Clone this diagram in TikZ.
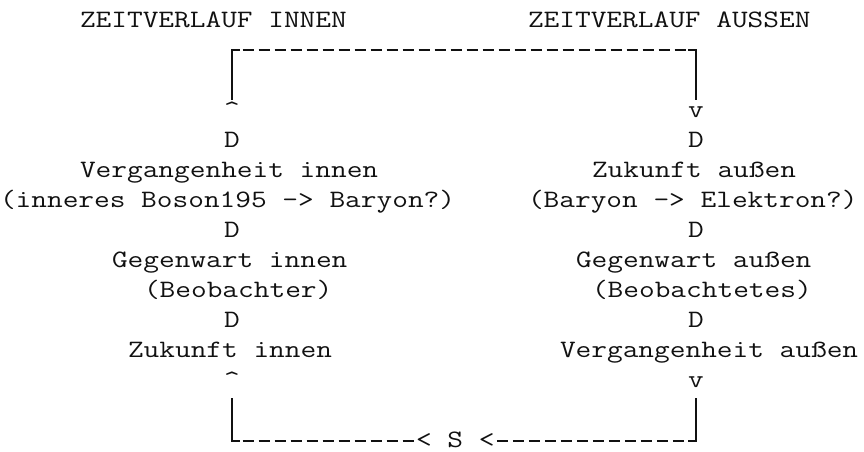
\documentclass[tikz,border=0pt]{standalone}
\usepackage{fontspec}
% typewriter face, widened so that one character cell is exactly 16pt
\newfontfamily\asciifont{Latin Modern Mono}[FakeStretch=1.21905]
\definecolor{ink}{HTML}{111111}
\begin{document}
\begin{tikzpicture}[x=1pt,y=-1pt,
  txt/.style={font=\asciifont\fontsize{25}{30}\selectfont, inner sep=0pt, outer sep=0pt,
              anchor=base west, text=ink},
  frame/.style={line width=1.8pt, draw=ink},
  dashrule/.style={frame, dash pattern=on 11pt off 5pt, dash phase=13.5pt}]
\fill[white] (0,0) rectangle (864,451);
\useasboundingbox (0,0) rectangle (864,451);

% column c starts at 16*c, line k has its baseline at 27+30*k
\node[txt] (titleIn)  at (16*5,27)  {ZEITVERLAUF INNEN};
\node[txt] (titleOut) at (16*33,27) {ZEITVERLAUF AUSSEN};

\node[txt] (upTop)   at (16*14,117) {\textasciicircum};
\node[txt] (downTop) at (16*43,117) {v};

\node[txt] (dL1) at (16*14,147) {D};
\node[txt] (dR1) at (16*43,147) {D};

\node[txt] (pastIn)    at (16*5,177)  {Vergangenheit innen};
\node[txt] (futureOut) at (16*37,177) {Zukunft außen};
\node[txt] (pastInX)   at (16*0,207)  {(inneres Boson195 -> Baryon?)};
\node[txt] (futureOutX) at (16*33,207) {(Baryon -> Elektron?)};

\node[txt] (dL2) at (16*14,237) {D};
\node[txt] (dR2) at (16*43,237) {D};

\node[txt] (nowIn)   at (16*7,267)  {Gegenwart innen};
\node[txt] (nowOut)  at (16*36,267) {Gegenwart außen};
\node[txt] (nowInX)  at (16*9,297)  {(Beobachter)};
\node[txt] (nowOutX) at (16*37,297) {(Beobachtetes)};

\node[txt] (dL3) at (16*14,327) {D};
\node[txt] (dR3) at (16*43,327) {D};

\node[txt] (futureIn) at (16*8,357)  {Zukunft innen};
\node[txt] (pastOut)  at (16*35,357) {Vergangenheit außen};

\node[txt] (upBot)   at (16*14,387) {\textasciicircum};
\node[txt] (downBot) at (16*43,387) {v};

\node[txt] (source) at (16*26,447) {< S <};

% frame corners and the ends of its dashed runs
\coordinate (topL)   at (232,50);
\coordinate (topR)   at (696,50);
\coordinate (topLe)  at (232,100);
\coordinate (topRe)  at (696,100);
\coordinate (topDa)  at (240,50);
\coordinate (topDb)  at (688,50);
\coordinate (botL)   at (232,441);
\coordinate (botR)   at (696,441);
\coordinate (botLe)  at (232,398);
\coordinate (botRe)  at (696,398);
\coordinate (botDa)  at (240,441);
\coordinate (botDb)  at (688,441);

% upper bracket
\draw[frame] (topLe) -- (topL) -- (topDa);
\draw[dashrule] (topDa) -- (topDb);
\draw[frame] (topDb) -- (topR) -- (topRe);

% lower bracket, broken by the source marker
\draw[frame] (botLe) -- (botL) -- (botDa);
\draw[dashrule] (botDa) -- (source.west |- botL);
\draw[dashrule] (source.east |- botR) -- (botDb);
\draw[frame] (botDb) -- (botR) -- (botRe);
\end{tikzpicture}
\end{document}
